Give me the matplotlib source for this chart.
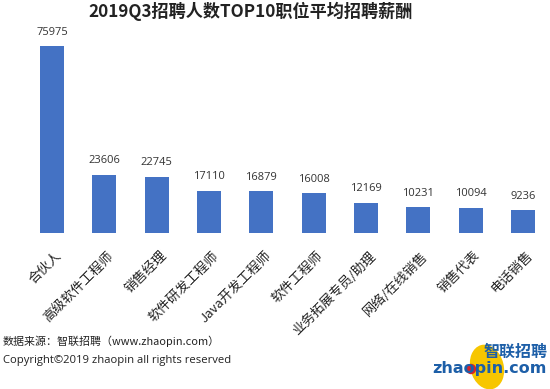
import matplotlib
matplotlib.use("Agg")
import matplotlib.pyplot as plt
import matplotlib.transforms as mtransforms
from matplotlib.patches import Ellipse, Circle

plt.rcParams['font.family'] = ['Noto Sans CJK SC', 'DejaVu Sans']

categories = ["合伙人", "高级软件工程师", "销售经理", "软件研发工程师", "Java开发工程师",
              "软件工程师", "业务拓展专员/助理", "网络/在线销售", "销售代表", "电话销售"]
values = [75975, 23606, 22745, 17110, 16879, 16008, 12169, 10231, 10094, 9236]

title = "2019Q3招聘人数TOP10职位平均招聘薪酬"
source = "数据来源：智联招聘（www.zhaopin.com）"
copyright_text = "Copyright©2019 zhaopin all rights reserved"

W, H = 550, 389
fig = plt.figure(figsize=(W / 100, H / 100), dpi=100)
fig.patch.set_facecolor("white")

ax = fig.add_axes([26 / W, 1 - 232.5 / H, 523 / W, 196 / H])
x = list(range(len(categories)))
ax.bar(x, values, width=0.46, color="#4472C4")
ax.set_xlim(-0.5, len(categories) - 0.5)
ax.set_ylim(0, 80000)
for s in ax.spines.values():
    s.set_visible(False)
ax.set_yticks([])
ax.set_xticks(x)
ax.set_xticklabels(categories, rotation=45, ha="right", va="top", rotation_mode="anchor",
                   fontsize=9.5, color="#222222")
ax.tick_params(axis="x", length=0, pad=12)
offset = mtransforms.ScaledTranslation(3 / 100, 0, fig.dpi_scale_trans)
for lbl in ax.get_xticklabels():
    lbl.set_transform(lbl.get_transform() + offset)
for xi, v in zip(x, values):
    ax.annotate(str(v), (xi, v), xytext=(0, 6), textcoords="offset points",
                ha="center", va="bottom", fontsize=8, color="#333333",
                family=["Open Sans", "DejaVu Sans"], annotation_clip=False)

fig.text(251 / W, 1 - 11 / H, title, ha="center", va="center", fontsize=12.3,
         fontweight="bold", color="#222222")
fig.text(3 / W, 1 - 341 / H, source, ha="left", va="center", fontsize=7.9, color="#222222")
fig.text(3 / W, 1 - 360 / H, copyright_text, ha="left", va="center", fontsize=8.1,
         color="#222222", family=["Open Sans", "DejaVu Sans"])

# logo
lax = fig.add_axes([0, 0, 1, 1], zorder=-1)
lax.set_xlim(0, W)
lax.set_ylim(H, 0)
lax.axis("off")
lax.add_patch(Ellipse((487, 367), 32, 44, angle=-15, color="#F7C600", zorder=1))
fig.text(548 / W, 1 - 352 / H, "智联招聘", ha="right", va="center", fontsize=11.5,
         fontweight="bold", style="italic", color="#1D5FA8", zorder=5)
fig.text(547 / W, 1 - 368 / H, "zhaopin.com", ha="right", va="center", fontsize=11.5,
         fontweight="bold", color="#1D5FA8", family=["DejaVu Sans"], zorder=5)
lax.add_patch(Circle((471, 369), 4.5, color="#D6232A", zorder=6))

fig.savefig("out.png", dpi=100, facecolor="white")
